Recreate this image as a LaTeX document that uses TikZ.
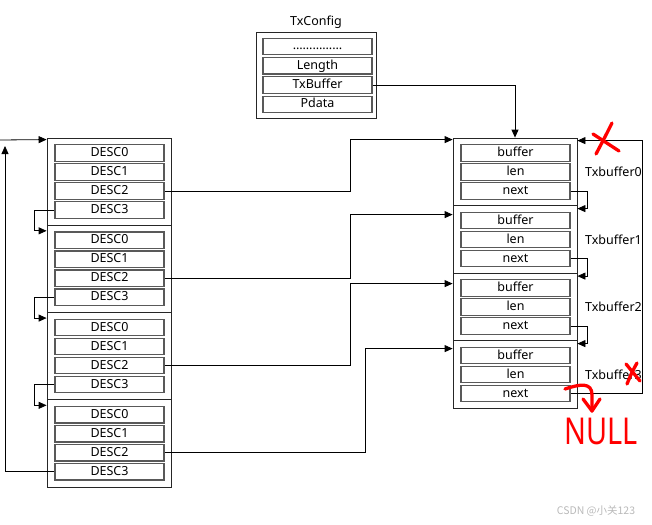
\documentclass[tikz,border=0pt]{standalone}
\usepackage{fontspec}
\setmainfont{Noto Sans}
\newfontfamily\cjkfont{Noto Sans CJK SC}
\usetikzlibrary{arrows.meta,positioning}

\tikzset{
  frame/.style={draw=black!85, line width=0.8pt, minimum width=124pt, inner sep=0pt},
  field/.style={draw=black!65, line width=1.1pt, minimum width=109pt, minimum height=16.5pt,
    inner sep=0pt, text height=8.5pt, text depth=1.5pt, font=\fontsize{12.5}{14}\selectfont},
  lbl/.style={font=\fontsize{12.5}{14}\selectfont, inner sep=0pt},
  link/.style={line width=0.8pt, -{Triangle[length=8pt,width=7pt]}},
  redpen/.style={draw=red, line width=3.3pt, line cap=round, line join=round},
}

\begin{document}
\begin{tikzpicture}[x=1pt,y=-1pt]
\useasboundingbox (0,0) rectangle (652,524);

% TxConfig
\node[frame, minimum width=120pt, minimum height=86pt] (cfg) at (316,75) {};
\node[lbl] (cfgname) at (316,22) {TxConfig};
\foreach \t [count=\i from 0] in {……………, Length, TxBuffer, Pdata}
  \node[field] (cfg\i) at (317.5,46.5+19.3*\i) {\t};

% descriptors
\foreach \g in {0,...,3} {
  \node[frame, minimum height=87.25pt] (desc\g) at (109,181.6+87.25*\g) {};
  \foreach \r in {0,...,3}
    \node[field] (desc\g-\r) at (109.5,153+87.25*\g+19*\r) {DESC\r};
}

% tx buffers
\foreach \g in {0,...,3} {
  \node[frame, minimum height=67.5pt] (txb\g) at (515,171.75+67.5*\g) {};
  \foreach \f [count=\r from 0] in {buffer, len, next}
    \node[field] (txb\g-\f) at (515.5,153+67.5*\g+19*\r) {\f};
  \node[lbl] (txbname\g) at (613.5,172+67.5*\g) {Txbuffer\g};
}

% DESC2 -> buffer
\foreach \g/\x/\s in {0/350/2, 1/350/9.5, 2/350/11, 3/365/8.5} {
  \coordinate (in\g) at ([yshift=-\s pt]txb\g.north west);
  \draw[link] (desc\g-2.east) -- ++({\x-164},0) |- (in\g);
}

% DESC3 -> next descriptor
\foreach \g/\n in {0/1, 1/2, 2/3}
  \draw[link] (desc\g-3.west) -- ++(-20,0) |- ([yshift=-6pt]desc\n.north west);
\coordinate (loopend) at (5,146);
\draw[link] (desc3-3.west) -| (loopend);
\coordinate (feed) at (0,140);
\draw[link] (feed) -- ([yshift=-2pt]desc0.north west);

% next -> next buffer
\foreach \g/\n in {0/1, 1/2, 2/3}
  \draw[link] (txb\g-next.east) -- ++(17,0) |- ([yshift=-3.5pt]txb\n.north east);
\draw[link] (txb3-next.east) -- ++(72,0) |- ([yshift=-3pt]txb0.north east);

% TxBuffer -> first buffer
\draw[link] (cfg2.east) -| (txb0.north);

% red marks
\draw[redpen] (612,123) .. controls (606,135) .. (596,154);
\draw[redpen] (593,134) .. controls (606,142) .. (619,151);
\draw[redpen] (626,364) -- (640,381);
\draw[redpen] (637,363) .. controls (632,372) .. (627,384);
\draw[redpen] (565,389) .. controls (580,384) and (592,382) .. (592,395) -- (592,411);
\draw[redpen] (583,399) -- (592,411) -- (600,399);
\node[red, font=\bfseries\fontsize{37}{37}\selectfont, inner sep=0pt] (null) at (601,431) {\scalebox{0.78}[1]{NULL}};

% watermark
\node[gray!55, font=\cjkfont\fontsize{10.5}{11}\selectfont, inner sep=0pt] (mark) at (596,511) {CSDN @小关123};
\end{tikzpicture}
\end{document}
